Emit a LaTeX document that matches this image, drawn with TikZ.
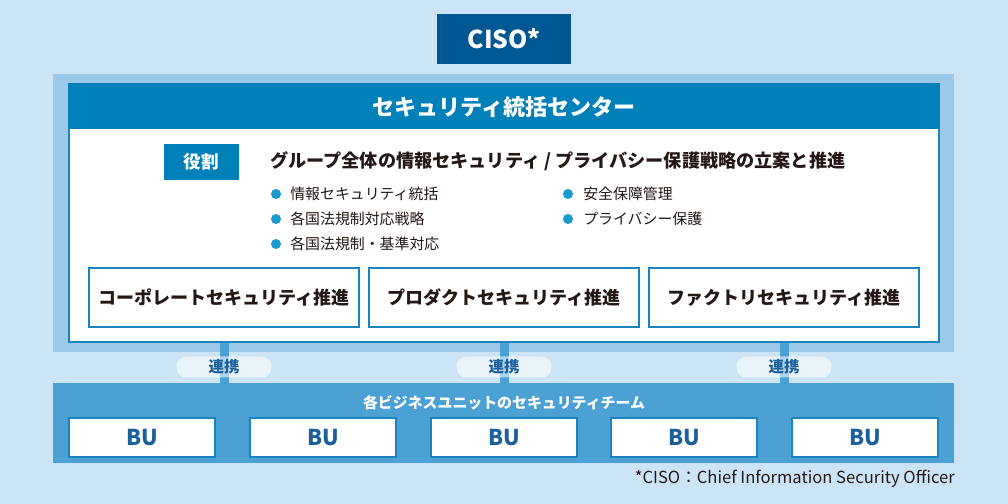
\documentclass[tikz,border=0pt]{standalone}
\usepackage{fontspec}
\setmainfont{Noto Sans CJK JP}
\definecolor{bgblue}{HTML}{CCE5F6}
\definecolor{panelblue}{HTML}{9CC9E7}
\definecolor{headblue}{HTML}{0080B9}
\definecolor{cisoblue}{HTML}{005893}
\definecolor{dotblue}{HTML}{1A9BCC}
\definecolor{teamblue}{HTML}{4CA1D4}
\definecolor{edgeblue}{HTML}{1B84BE}
\definecolor{textblue}{HTML}{1B5F9B}
\definecolor{ink}{HTML}{231815}
\newcommand{\pxu}{0.025cm}
\begin{document}
\begin{tikzpicture}[x=\pxu, y=-\pxu,
        whitebox/.style={draw=edgeblue, line width=1pt, fill=white, inner sep=0pt},
        pill/.style={fill=white, fill opacity=0.55, text opacity=1, rounded corners=10*\pxu, minimum width=95*\pxu, minimum height=21*\pxu, inner sep=0pt, font=\fontsize{11}{13}\selectfont\bfseries, text=textblue},
        link/.style={teamblue, line width=6.4pt}]
        % Background and frame
        \useasboundingbox (0,0) rectangle (1008,504);
        \fill[bgblue] (0,0) rectangle (1008,504);
        \node[fill=cisoblue, minimum width=134*\pxu, minimum height=50*\pxu, text=white, font=\fontsize{17.5}{20}\selectfont\bfseries] (ciso) at (504,39) {CISO*};
        \fill[panelblue] (53,74) rectangle (954,352);

        % Security center box
        \node[whitebox, minimum width=870*\pxu, minimum height=258*\pxu] (center) at (504,213) {};
        \fill[headblue] (center.north west) rectangle ([yshift=-46*\pxu]center.north east);
        \node at (504,107) [text=white, font=\fontsize{15.7}{18}\selectfont\bfseries] (centertitle) {セキュリティ統括センター};

        % Role
        \node[fill=headblue, minimum width=75*\pxu, minimum height=36*\pxu, text=white, font=\fontsize{12.5}{15}\selectfont\bfseries] (role) at (201.5,162) {役割};
        \node at (270,161) [anchor=west, inner sep=0pt, text=ink, font=\fontsize{12.9}{15}\selectfont\bfseries] (roletext) {グループ全体の情報セキュリティ / プライバシー保護戦略の立案と推進};

        % Bullet items
        \foreach \t [count=\i] in {情報セキュリティ統括, 各国法規制対応戦略, 各国法規制・基準対応} {
            \fill[dotblue] (276,169+25*\i) circle (5);
            \node at (290,169+25*\i) [anchor=west, inner sep=0pt, text=ink, font=\fontsize{10.6}{13}\selectfont] (itema\i) {\t};
        }
        \foreach \t [count=\i] in {安全保障管理, プライバシー保護} {
            \fill[dotblue] (568,169+25*\i) circle (5);
            \node at (583,169+25*\i) [anchor=west, inner sep=0pt, text=ink, font=\fontsize{10.6}{13}\selectfont] (itemb\i) {\t};
        }

        % Three promotion boxes
        \foreach \t/\n/\x in {コーポレートセキュリティ推進/corp/224, プロダクトセキュリティ推進/prod/504, ファクトリセキュリティ推進/fact/784}
            \node[whitebox, minimum width=270*\pxu, minimum height=59*\pxu, text=ink, font=\fontsize{12.8}{15}\selectfont\bfseries] (\n) at (\x,297.5) {\t};

        % Business unit team
        \node[fill=teamblue, minimum width=901*\pxu, minimum height=80*\pxu, inner sep=0pt] (team) at (503.5,423) {};
        \node at (504,403) [text=white, font=\fontsize{10.6}{13}\selectfont\bfseries] (teamtitle) {各ビジネスユニットのセキュリティチーム};
        \foreach \x [count=\i] in {142,323,504,684,865}
            \node[whitebox, minimum width=146*\pxu, minimum height=39*\pxu, text=textblue, font=\fontsize{15.5}{18}\selectfont\bfseries] (bu\i) at (\x,437.5) {BU};

        % Links
        \foreach \n in {corp, prod, fact} {
            \draw[link] (\n |- center.south) -- (\n |- team.north);
            \node[pill] (link\n) at (\n |- 0,367) {連携};
        }

        % Footnote
        \node at (955,479) [anchor=east, inner sep=0pt, text=ink, font=\fontsize{11.8}{14}\selectfont] (note) {*CISO：Chief Information Security Officer};
\end{tikzpicture}
\end{document}
